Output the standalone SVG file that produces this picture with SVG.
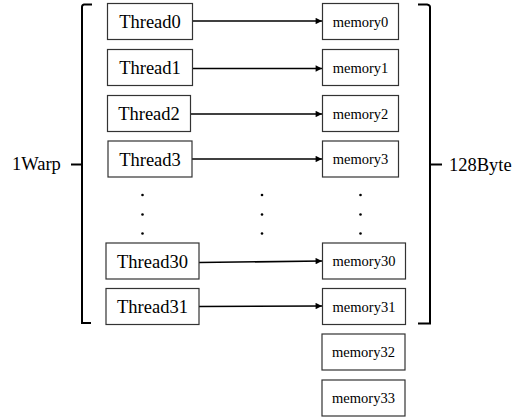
<svg xmlns="http://www.w3.org/2000/svg" width="521" height="418" viewBox="0 0 521 418">
<style>
.box{fill:#fff;stroke:#333;stroke-width:1.2}
.tt{font-family:"Liberation Serif","Times New Roman",serif;font-size:18.5px;fill:#000;text-anchor:middle}
.mt{font-family:"Liberation Serif","Times New Roman",serif;font-size:14.5px;fill:#000;text-anchor:middle}
.lb{font-family:"Liberation Serif","Times New Roman",serif;font-size:18.5px;fill:#000}
.ar{stroke:#000;stroke-width:1.6;fill:none;marker-end:url(#ah)}
.br{stroke:#000;stroke-width:2;fill:none}
</style>
<defs>
<marker id="ah" viewBox="0 0 10 10" refX="10" refY="5" markerWidth="5" markerHeight="4" markerUnits="strokeWidth" orient="auto">
<path d="M0,0 L10,5 L0,10 z" fill="#000"/>
</marker>
</defs>
<g id="connectors">
<line class="ar" x1="192" y1="21" x2="322" y2="21"/>
<line class="ar" x1="192" y1="68.5" x2="322" y2="68.5"/>
<line class="ar" x1="191" y1="114" x2="322" y2="114"/>
<line class="ar" x1="192" y1="159" x2="322" y2="159"/>
<line class="ar" x1="199" y1="262.5" x2="322" y2="261"/>
<line class="ar" x1="199" y1="306.5" x2="322" y2="306"/>
</g>
<g id="thread0"><rect class="box" x="107.5" y="3.5" width="85" height="36"/><text class="tt" x="150" y="28">Thread0</text></g>
<g id="thread1"><rect class="box" x="107.5" y="49.5" width="85" height="36"/><text class="tt" x="150" y="74">Thread1</text></g>
<g id="thread2"><rect class="box" x="107.5" y="95.5" width="83" height="36"/><text class="tt" x="149" y="120">Thread2</text></g>
<g id="thread3"><rect class="box" x="108" y="141" width="84" height="36"/><text class="tt" x="150" y="165.5">Thread3</text></g>
<g id="thread30"><rect class="box" x="106" y="243" width="93" height="36"/><text class="tt" x="152.5" y="267.5">Thread30</text></g>
<g id="thread31"><rect class="box" x="106" y="288.5" width="93" height="36"/><text class="tt" x="152.5" y="313">Thread31</text></g>
<g id="memory0"><rect class="box" x="322.5" y="3.5" width="76" height="36"/><text class="mt" x="360.5" y="26.5">memory0</text></g>
<g id="memory1"><rect class="box" x="322.5" y="49.5" width="76" height="36"/><text class="mt" x="360.5" y="72.5">memory1</text></g>
<g id="memory2"><rect class="box" x="322.5" y="95.5" width="76" height="36"/><text class="mt" x="360.5" y="118.5">memory2</text></g>
<g id="memory3"><rect class="box" x="322.5" y="141" width="76" height="36"/><text class="mt" x="360.5" y="164">memory3</text></g>
<g id="memory30"><rect class="box" x="322.5" y="243" width="83" height="36"/><text class="mt" x="364" y="266">memory30</text></g>
<g id="memory31"><rect class="box" x="322.5" y="288.5" width="83" height="36"/><text class="mt" x="364" y="311.5">memory31</text></g>
<g id="memory32"><rect class="box" x="322" y="334" width="83" height="36"/><text class="mt" x="363.5" y="357">memory32</text></g>
<g id="memory33"><rect class="box" x="322" y="380" width="83" height="36"/><text class="mt" x="363.5" y="403">memory33</text></g>
<g id="dots" fill="#000">
<circle cx="142.5" cy="195" r="1.3"/><circle cx="142.5" cy="214.5" r="1.3"/><circle cx="142.5" cy="233.5" r="1.3"/>
<circle cx="262" cy="195" r="1.3"/><circle cx="262" cy="214.5" r="1.3"/><circle cx="262" cy="233.5" r="1.3"/>
<circle cx="360.5" cy="195" r="1.3"/><circle cx="360.5" cy="214.5" r="1.3"/><circle cx="360.5" cy="233.5" r="1.3"/>
</g>
<g id="warp">
<path class="br" d="M92,4.5 L84,4.5 Q82,5 82,7 L82,323 L91,323"/>
<line class="br" x1="71" y1="164.5" x2="82" y2="164.5"/>
<text class="lb" x="12" y="170">1Warp</text>
</g>
<g id="bytes">
<path class="br" d="M418,4.5 L427,4.5 Q430,5 430,7 L430,323.5 L418,323.5"/>
<line class="br" x1="430" y1="164.5" x2="442" y2="164.5"/>
<text class="lb" x="449" y="171">128Byte</text>
</g>
</svg>
